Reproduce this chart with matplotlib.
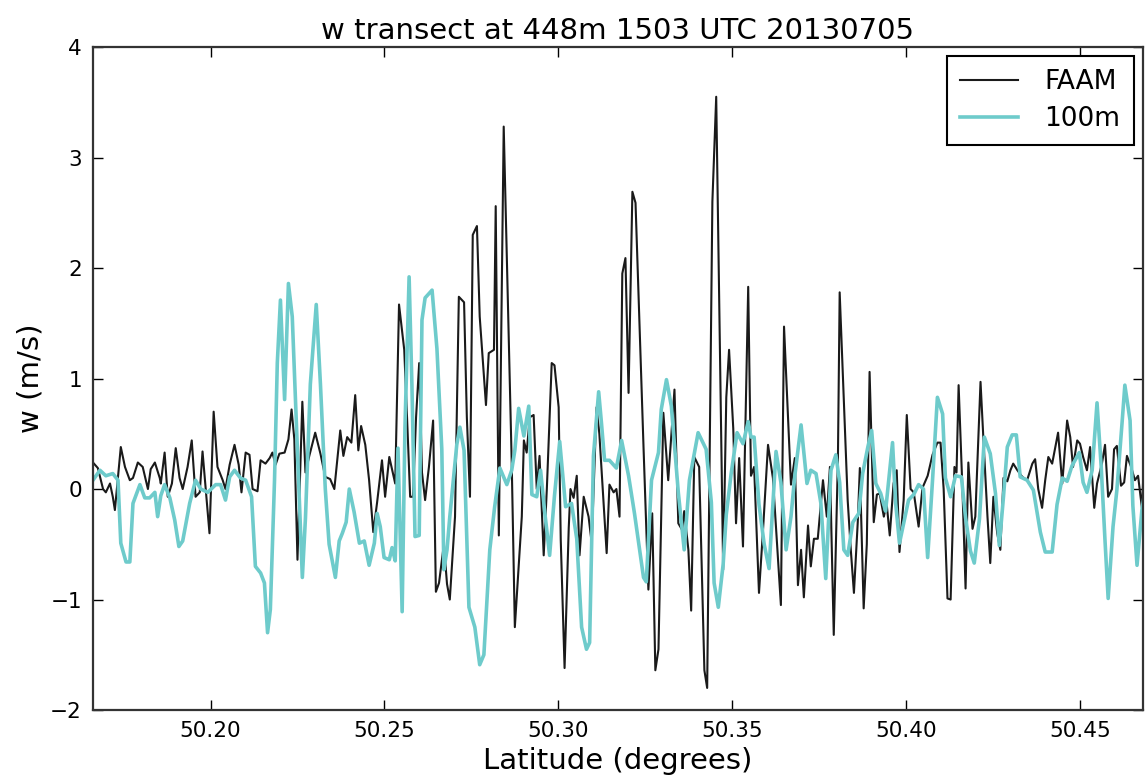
import matplotlib
matplotlib.use('Agg')
import matplotlib.pyplot as plt

# FAAM aircraft vertical velocity
faam_lat = [50.1662, 50.1676, 50.1691, 50.1699, 50.1711, 50.1719, 50.1725, 50.1734, 50.1742, 50.1754,
            50.1768, 50.1777, 50.1791, 50.1805, 50.1814, 50.1820, 50.1828, 50.1840, 50.1854, 50.1857,
            50.1868, 50.1877, 50.1889, 50.1900, 50.1911, 50.1920, 50.1934, 50.1946, 50.1957, 50.1969,
            50.1977, 50.1989, 50.1997, 50.2009, 50.2020, 50.2035, 50.2043, 50.2055, 50.2069, 50.2081,
            50.2089, 50.2101, 50.2112, 50.2121, 50.2135, 50.2144, 50.2158, 50.2170, 50.2178, 50.2187,
            50.2198, 50.2213, 50.2224, 50.2233, 50.2241, 50.2250, 50.2264, 50.2273, 50.2284, 50.2301,
            50.2316, 50.2330, 50.2344, 50.2356, 50.2373, 50.2382, 50.2393, 50.2405, 50.2416, 50.2425,
            50.2433, 50.2445, 50.2456, 50.2468, 50.2479, 50.2493, 50.2502, 50.2514, 50.2531, 50.2542,
            50.2557, 50.2565, 50.2574, 50.2582, 50.2591, 50.2600, 50.2608, 50.2617, 50.2628, 50.2640,
            50.2648, 50.2657, 50.2671, 50.2680, 50.2688, 50.2703, 50.2714, 50.2729, 50.2737, 50.2746,
            50.2754, 50.2766, 50.2774, 50.2792, 50.2800, 50.2815, 50.2820, 50.2829, 50.2843, 50.2866,
            50.2875, 50.2895, 50.2901, 50.2909, 50.2918, 50.2929, 50.2938, 50.2946, 50.2958, 50.2967,
            50.2981, 50.2989, 50.3001, 50.3007, 50.3018, 50.3030, 50.3035, 50.3044, 50.3053, 50.3061,
            50.3073, 50.3087, 50.3096, 50.3110, 50.3118, 50.3139, 50.3147, 50.3159, 50.3167, 50.3176,
            50.3184, 50.3193, 50.3202, 50.3213, 50.3222, 50.3245, 50.3259, 50.3270, 50.3279, 50.3288,
            50.3296, 50.3302, 50.3316, 50.3334, 50.3345, 50.3356, 50.3362, 50.3374, 50.3382, 50.3391,
            50.3405, 50.3420, 50.3428, 50.3443, 50.3454, 50.3474, 50.3483, 50.3491, 50.3503, 50.3511,
            50.3520, 50.3531, 50.3546, 50.3554, 50.3563, 50.3577, 50.3589, 50.3603, 50.3617, 50.3640,
            50.3649, 50.3669, 50.3680, 50.3689, 50.3698, 50.3706, 50.3718, 50.3726, 50.3735, 50.3746,
            50.3761, 50.3772, 50.3781, 50.3792, 50.3804, 50.3809, 50.3821, 50.3832, 50.3841, 50.3850,
            50.3861, 50.3867, 50.3878, 50.3887, 50.3895, 50.3907, 50.3916, 50.3924, 50.3936, 50.3944,
            50.3953, 50.3964, 50.3973, 50.3981, 50.3993, 50.4002, 50.4013, 50.4022, 50.4036, 50.4047,
            50.4062, 50.4076, 50.4090, 50.4099, 50.4108, 50.4119, 50.4128, 50.4139, 50.4145, 50.4151,
            50.4162, 50.4171, 50.4179, 50.4191, 50.4199, 50.4214, 50.4222, 50.4234, 50.4242, 50.4251,
            50.4262, 50.4271, 50.4280, 50.4291, 50.4300, 50.4308, 50.4320, 50.4334, 50.4348, 50.4363,
            50.4371, 50.4380, 50.4391, 50.4400, 50.4409, 50.4420, 50.4429, 50.4437, 50.4449, 50.4463,
            50.4472, 50.4480, 50.4492, 50.4500, 50.4509, 50.4520, 50.4529, 50.4541, 50.4549, 50.4563,
            50.4572, 50.4581, 50.4592, 50.4598, 50.4606, 50.4618, 50.4627, 50.4635, 50.4647, 50.4658,
            50.4667, 50.4678, 50.4690]
faam_w = [0.24, 0.19, 0.00, -0.03, 0.05, -0.07, -0.19, 0.11, 0.38, 0.20,
          0.08, 0.10, 0.24, 0.20, 0.08, 0.00, 0.18, 0.24, 0.10, 0.05,
          0.33, -0.07, 0.05, 0.37, 0.10, 0.00, 0.20, 0.44, -0.07, -0.03,
          0.34, -0.10, -0.40, 0.70, 0.20, 0.08, 0.00, 0.22, 0.40, 0.22,
          -0.03, 0.33, 0.31, 0.00, -0.02, 0.26, 0.23, 0.28, 0.33, 0.22,
          0.32, 0.33, 0.45, 0.72, 0.45, -0.64, 0.79, 0.15, 0.30, 0.51,
          0.32, 0.11, 0.09, 0.00, 0.53, 0.30, 0.47, 0.42, 0.85, 0.35,
          0.57, 0.40, 0.08, -0.39, -0.12, 0.26, -0.07, 0.29, 0.05, 1.67,
          1.26, 0.65, -0.07, -0.07, 0.65, 1.14, 0.15, -0.10, 0.20, 0.62,
          -0.93, -0.85, -0.50, -0.86, -1.00, -0.25, 1.74, 1.69, 0.65, -0.07,
          2.30, 2.38, 1.56, 0.76, 1.23, 1.26, 2.56, -0.42, 3.28, 0.24,
          -1.25, -0.25, 0.44, 0.33, 0.65, 0.67, 0.00, 0.30, -0.60, 0.00,
          1.14, 1.12, 0.74, -0.46, -1.62, -0.35, 0.00, -0.08, 0.12, -0.60,
          -0.07, -0.25, -0.49, 0.74, 0.50, -0.58, 0.04, -0.03, 0.00, -0.25,
          1.95, 2.09, 0.87, 2.69, 2.59, 0.38, -0.91, -0.22, -1.64, -1.45,
          -0.20, 0.69, 0.08, 0.90, -0.31, -0.37, -0.20, -0.55, -1.10, 0.29,
          0.20, -1.64, -1.80, 2.60, 3.55, -0.73, 0.83, 1.26, 0.55, -0.31,
          0.28, -0.52, 1.83, 0.12, 0.20, -0.94, -0.35, 0.40, 0.10, -1.05,
          1.47, 0.04, 0.28, -0.87, -0.55, -0.98, -0.33, -0.70, -0.45, -0.45,
          0.08, -0.25, 0.20, -1.32, 0.28, 1.78, 0.80, -0.10, -0.55, -0.94,
          -0.30, 0.19, -1.08, -0.50, 1.06, -0.30, -0.05, -0.04, -0.25, -0.13,
          -0.42, 0.05, 0.17, -0.57, -0.10, 0.67, 0.00, -0.03, -0.34, 0.01,
          0.12, 0.31, 0.42, 0.42, 0.00, -0.99, -1.00, 0.20, 0.15, 0.94,
          0.00, -0.90, 0.24, -0.36, -0.25, 0.97, 0.47, -0.25, -0.67, -0.07,
          -0.40, -0.55, 0.10, 0.07, 0.17, 0.23, 0.17, 0.11, 0.08, 0.23,
          0.27, 0.00, -0.17, 0.08, 0.29, 0.23, 0.38, 0.51, 0.05, 0.62,
          0.47, 0.20, 0.44, 0.41, 0.29, 0.17, 0.38, -0.17, 0.05, 0.23,
          0.40, -0.07, 0.00, 0.36, 0.39, 0.03, 0.06, 0.30, 0.20, 0.08,
          0.12, -0.17, 0.65]

# 100m model run
m100_lat = [50.1662, 50.1682, 50.1699, 50.1719, 50.1734, 50.1742, 50.1757, 50.1768, 50.1777, 50.1797,
            50.1811, 50.1825, 50.1840, 50.1848, 50.1857, 50.1868, 50.1883, 50.1897, 50.1909, 50.1920,
            50.1940, 50.1957, 50.1972, 50.1992, 50.2015, 50.2029, 50.2043, 50.2055, 50.2069, 50.2086,
            50.2101, 50.2118, 50.2129, 50.2144, 50.2155, 50.2164, 50.2172, 50.2184, 50.2192, 50.2201,
            50.2213, 50.2224, 50.2235, 50.2250, 50.2264, 50.2273, 50.2287, 50.2304, 50.2316, 50.2330,
            50.2341, 50.2359, 50.2370, 50.2379, 50.2390, 50.2399, 50.2413, 50.2428, 50.2442, 50.2456,
            50.2471, 50.2479, 50.2488, 50.2499, 50.2514, 50.2522, 50.2531, 50.2539, 50.2551, 50.2559,
            50.2571, 50.2579, 50.2588, 50.2600, 50.2608, 50.2617, 50.2637, 50.2651, 50.2665, 50.2671,
            50.2680, 50.2688, 50.2708, 50.2717, 50.2729, 50.2743, 50.2760, 50.2774, 50.2786, 50.2803,
            50.2817, 50.2832, 50.2852, 50.2866, 50.2875, 50.2886, 50.2901, 50.2915, 50.2924, 50.2938,
            50.2949, 50.2961, 50.2975, 50.2989, 50.3004, 50.3021, 50.3038, 50.3053, 50.3067, 50.3081,
            50.3090, 50.3101, 50.3116, 50.3124, 50.3133, 50.3147, 50.3167, 50.3182, 50.3202, 50.3219,
            50.3245, 50.3253, 50.3268, 50.3288, 50.3296, 50.3311, 50.3325, 50.3345, 50.3362, 50.3377,
            50.3402, 50.3425, 50.3440, 50.3448, 50.3460, 50.3474, 50.3483, 50.3497, 50.3514, 50.3531,
            50.3546, 50.3554, 50.3563, 50.3577, 50.3592, 50.3606, 50.3626, 50.3640, 50.3655, 50.3669,
            50.3680, 50.3698, 50.3715, 50.3726, 50.3741, 50.3755, 50.3769, 50.3784, 50.3798, 50.3809,
            50.3821, 50.3832, 50.3847, 50.3864, 50.3875, 50.3890, 50.3901, 50.3913, 50.3927, 50.3941,
            50.3961, 50.3970, 50.3981, 50.3993, 50.4007, 50.4022, 50.4036, 50.4050, 50.4062, 50.4076,
            50.4090, 50.4105, 50.4113, 50.4128, 50.4142, 50.4159, 50.4171, 50.4185, 50.4196, 50.4211,
            50.4225, 50.4242, 50.4257, 50.4268, 50.4280, 50.4291, 50.4305, 50.4317, 50.4328, 50.4348,
            50.4366, 50.4386, 50.4400, 50.4420, 50.4434, 50.4449, 50.4463, 50.4477, 50.4498, 50.4509,
            50.4520, 50.4535, 50.4549, 50.4561, 50.4572, 50.4581, 50.4595, 50.4606, 50.4621, 50.4629,
            50.4644, 50.4652, 50.4664, 50.4678, 50.4690]
m100_w = [0.08, 0.17, 0.12, 0.14, 0.08, -0.49, -0.66, -0.66, -0.13, 0.04,
          -0.08, -0.08, -0.03, -0.25, -0.06, 0.04, -0.08, -0.28, -0.52, -0.47,
          -0.13, 0.08, 0.00, -0.03, 0.04, 0.04, -0.10, 0.11, 0.17, 0.10,
          0.08, -0.07, -0.70, -0.76, -0.85, -1.30, -1.09, 0.08, 1.14, 1.71,
          0.81, 1.86, 1.56, 0.35, -0.80, -0.26, 0.95, 1.67, 0.95, 0.00,
          -0.50, -0.80, -0.47, -0.40, -0.30, 0.00, -0.21, -0.49, -0.47, -0.69,
          -0.49, -0.22, -0.34, -0.62, -0.64, -0.53, -0.65, 0.37, -1.11, 0.55,
          1.92, 0.95, -0.43, -0.42, 1.53, 1.73, 1.80, 1.27, 0.36, -0.73,
          -0.55, -0.25, 0.40, 0.56, 0.35, -1.07, -1.25, -1.59, -1.50, -0.55,
          -0.16, 0.19, 0.04, 0.17, 0.35, 0.73, 0.48, 0.75, -0.05, -0.07,
          0.17, -0.21, -0.60, -0.06, 0.43, -0.16, -0.13, -0.45, -1.25, -1.45,
          -1.39, 0.30, 0.88, 0.60, 0.26, 0.26, 0.19, 0.44, 0.12, -0.22,
          -0.80, -0.84, 0.08, 0.33, 0.72, 0.99, 0.75, -0.03, -0.55, 0.08,
          0.51, 0.36, -0.12, -0.85, -1.07, -0.68, -0.23, 0.14, 0.51, 0.41,
          0.61, 0.47, 0.47, -0.14, -0.50, -0.72, 0.34, 0.06, -0.55, -0.25,
          0.12, 0.58, 0.05, 0.17, 0.14, -0.13, -0.81, 0.17, 0.31, 0.06,
          -0.55, -0.60, -0.30, -0.22, 0.14, 0.38, 0.53, 0.05, -0.04, -0.20,
          0.42, -0.13, -0.49, -0.31, -0.10, -0.05, 0.04, 0.00, -0.62, 0.08,
          0.83, 0.68, 0.10, -0.07, 0.12, 0.11, -0.26, -0.56, -0.67, -0.27,
          0.47, 0.32, -0.04, -0.51, -0.07, 0.38, 0.49, 0.49, 0.11, 0.08,
          -0.01, -0.39, -0.57, -0.57, -0.14, 0.10, 0.07, 0.21, 0.33, 0.06,
          -0.03, 0.17, 0.78, 0.20, -0.47, -0.99, -0.34, -0.01, 0.60, 0.94,
          0.62, -0.15, -0.69, -0.19, 0.05]

xticks = [50.20, 50.25, 50.30, 50.35, 50.40, 50.45]
yticks = [-2, -1, 0, 1, 2, 3, 4]

fig = plt.figure(figsize=(11.45, 7.8), dpi=100)
ax = fig.add_axes([0.0812, 0.0897, 0.917, 0.850])

ax.plot(faam_lat, faam_w, color='#1a1a1a', lw=1.5, label='FAAM')
ax.plot(m100_lat, m100_w, color='#6ecbcb', lw=2.6, label='100m')

ax.set_xlim(50.1662, 50.4681)
ax.set_ylim(-2, 4)
ax.set_xticks(xticks)
ax.set_xticklabels(['%.2f' % t for t in xticks])
ax.set_yticks(yticks)
ax.tick_params(direction='in', top=True, right=True, length=7, width=1, labelsize=15.5, pad=8)
for s in ax.spines.values():
    s.set_linewidth(1.6)
    s.set_color('#333333')

ax.set_title('w transect at 448m 1503 UTC 20130705', fontsize=21, pad=6)
ax.set_xlabel('Latitude (degrees)', fontsize=21, labelpad=4)
ax.set_ylabel('w (m/s)', fontsize=21, labelpad=4)

leg = ax.legend(loc='upper right', fontsize=19, fancybox=False, framealpha=1,
                edgecolor='black', borderaxespad=0.35, handlelength=2.2,
                handletextpad=1.0, borderpad=0.5, labelspacing=0.4)
leg.get_frame().set_linewidth(1.5)

plt.savefig('out.png', dpi=100)
